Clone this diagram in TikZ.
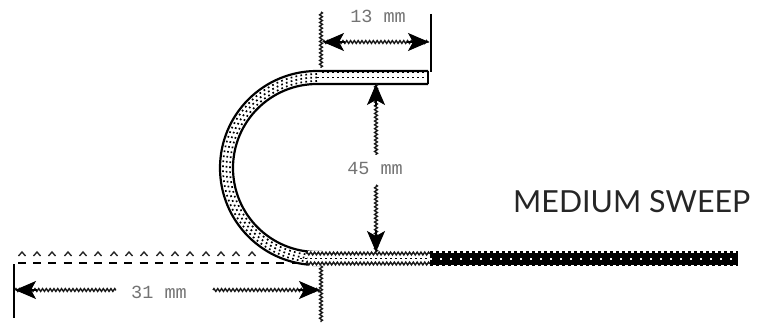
\documentclass[tikz,border=0pt]{standalone}
\usepackage{fontspec}
\setmainfont{Lato}
\newfontfamily\dimfont{Liberation Mono}
\usetikzlibrary{arrows.meta,decorations.pathmorphing}
\tikzset{
  x=1pt,y=1pt,
  wavy/.style={draw=black!90,line width=1.4pt,decorate,decoration={zigzag,segment length=3.8pt,amplitude=1.4pt}},
  solidline/.style={draw=black,line width=2.4pt},
  tiphead/.style={draw=black,line width=1.4pt,-{Stealth[length=21pt,width=18pt,inset=5pt]}},
  outline/.style={draw=black,line width=2.2pt},
  speck/.style={draw=black,line width=1.7pt,dash pattern=on 1.7pt off 3.3pt},
  caretmark/.style={draw=black!85,line width=1.4pt},
  dimlabel/.style={font=\dimfont\fontsize{18.5}{18.5}\selectfont,text=black!55,inner sep=0pt},
  caption/.style={font=\fontsize{30.4}{32}\selectfont,text=black!85,inner sep=0pt}
}
\begin{document}
\begin{tikzpicture}
\useasboundingbox (0,0) rectangle (759,324);
% centre of the bend is (317,156); tube from r=84 to r=97
\coordinate (tubeEndTop) at (428,246.5);
\coordinate (bendTop) at (317,246.5);
\coordinate (bendBottom) at (317,65.5);
\coordinate (greyEnd) at (430,65.5);
\coordinate (wireEnd) at (738,65.5);
% bent part outlines
\draw[outline] (428,253) -- (317,253) arc[start angle=90,end angle=270,radius=97] -- (322,59);
\draw[outline] (428,240) -- (317,240) arc[start angle=90,end angle=270,radius=84] -- (322,72);
\draw[outline] (428,253) -- (428,240);
% specks in the bent part
\foreach \d in {-3.5,0,3.5}{
  \draw[speck] (317,{246.5+\d}) arc[start angle=90,end angle=270,radius={90.5+\d}];
}
\draw[speck] (bendTop) -- (tubeEndTop);
\draw[draw=black,line width=2pt,dash pattern=on 1.6pt off 3.4pt] (322,252.2) -- (426,252.2);
% straight grey part
\fill[white] (308,58) rectangle (430,73);
\draw[wavy] (306,70.5) -- (430,70.5);
\draw[wavy] (306,60.5) -- (430,60.5);
\draw[speck,line width=1.4pt] (300,65.5) -- (430,65.5);
% black part
\draw[draw=black,line width=12pt] (greyEnd) -- (wireEnd);
\draw[draw=black,line width=15pt,dash pattern=on 3pt off 3pt] (greyEnd) -- (wireEnd);
\draw[draw=white,line width=2pt,dash pattern=on 2pt off 8pt] (greyEnd) -- (wireEnd);
% dashed and caret rows of the straightened wire
\coordinate (dashL) at (18,61);
\coordinate (dashR) at (296,61);
\draw[draw=black,line width=2.2pt,dash pattern=on 8pt off 7.2pt] (dashL) -- (dashR);
\foreach \x in {22,37,52,68,83,98,114,129,144,160,175,190,206,221,236,252}{
  \draw[caretmark] (\x-3.5,68) -- (\x,72) -- (\x+3.5,68);
}
% top dimension
\coordinate (tl1) at (321,312);
\coordinate (tl2) at (321,256);
\coordinate (tr1) at (431,310);
\coordinate (tr2) at (431,252);
\draw[wavy] (tl1) -- (tl2);
\draw[solidline] (tr1) -- (tr2);
\coordinate (ta) at (323,282);
\coordinate (tb) at (429,282);
\draw[wavy] (ta) -- (tb);
\draw[tiphead] (345,282) -- (ta);
\draw[tiphead] (407,282) -- (tb);
\node[dimlabel] (toplabel) at (378,308) {13 mm};
% vertical dimension
\node[dimlabel] (midlabel) at (375,156) {45 mm};
\coordinate (va) at (376,240);
\coordinate (vb) at (376,72);
\coordinate (vc) at (376,169);
\coordinate (vd) at (376,139);
\draw[wavy] (va) -- (vc);
\draw[wavy] (vd) -- (vb);
\draw[tiphead] (376,218) -- (va);
\draw[tiphead] (376,94) -- (vb);
% bottom dimension
\coordinate (bl1) at (14,60);
\coordinate (bl2) at (14,6);
\coordinate (br1) at (321,58);
\coordinate (br2) at (321,2);
\draw[solidline] (bl1) -- (bl2);
\draw[wavy] (br1) -- (br2);
\coordinate (ba) at (15,34);
\coordinate (bb) at (116,34);
\coordinate (bc) at (213,34);
\coordinate (bd) at (320,34);
\draw[wavy] (ba) -- (bb);
\draw[wavy] (bc) -- (bd);
\draw[tiphead] (37,34) -- (ba);
\draw[tiphead] (298,34) -- (bd);
\node[dimlabel] (botlabel) at (159,32) {31 mm};
% caption
\node[caption,anchor=base west] (sweep) at (513,111) {MEDIUM SWEEP};
\end{tikzpicture}
\end{document}
